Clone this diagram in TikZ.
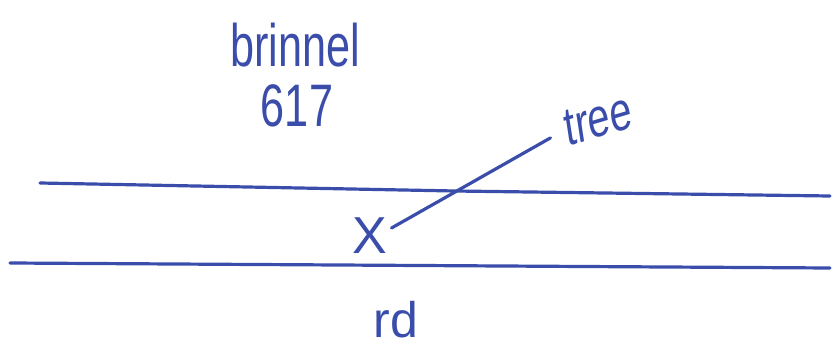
\documentclass[tikz,border=0pt]{standalone}
\usepackage{fontspec}
\setmainfont{Liberation Sans}
\definecolor{penBlue}{HTML}{3A4DAA}
\tikzset{
  pen line/.style={draw=penBlue, line width=3.2pt, line cap=round},
  pen label/.style={text=penBlue, inner sep=0pt},
  pen narrow/.style={pen label, xscale=0.72, transform shape},
}

\begin{document}
\begin{tikzpicture}[x=1pt, y=-1pt]
  \useasboundingbox (0,0) rectangle (833,350);

  % Site name
  \node[pen narrow, font=\fontsize{60}{60}\selectfont] (name) at (295,45) {brinnel};
  \node[pen narrow, font=\fontsize{60}{60}\selectfont] (number) at (297,106) {617};

  % Road edges
  \coordinate (top west) at (40,183);
  \coordinate (top mid) at (455,191);
  \coordinate (top east) at (830,196);
  \draw[pen line] (top west) -- (top mid) -- (top east);
  \coordinate (low west) at (10,263);
  \coordinate (low east) at (830,268);
  \draw[pen line] (low west) -- (low east);
  \node[pen label, font=\fontsize{50}{50}\selectfont] (road) at (396,320) {rd};

  % Spot and the tree it points to
  \node[pen label, font=\fontsize{52}{52}\selectfont] (spot) at (370,236) {X};
  \node[pen narrow, font=\fontsize{55}{55}\selectfont, rotate=12] (tree) at (598,120) {tree};
  \draw[pen line] ([xshift=4pt,yshift=8pt]spot.east) -- ([xshift=-14pt,yshift=-8pt]tree.west);
\end{tikzpicture}
\end{document}
